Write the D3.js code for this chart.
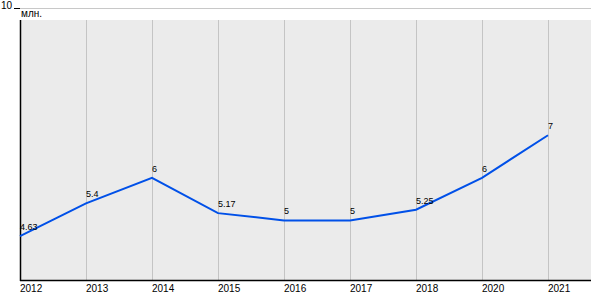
<!DOCTYPE html>
<html>
<head>
<meta charset="utf-8">
<script src="https://cdn.jsdelivr.net/npm/d3@7"></script>
<style>
  body { margin: 0; background: #fff; }
  svg { display: block; font-family: "Liberation Sans", Arial, sans-serif; }
</style>
</head>
<body>
<div class="js-chart"></div>
<script>
// chart values
const years = ["2012", "2013", "2014", "2015", "2016", "2017", "2018", "2020", "2021"];
const values = [4.63, 5.4, 6, 5.17, 5, 5, 5.25, 6, 7];
const valueLabels = ["4.63", "5.4", "6", "5.17", "5", "5", "5.25", "6", "7"];
const yMax = 10;
const yMin = 3.6;
const unitLabel = "млн.";

const width = 600, height = 300;
const plotLeft = 20, plotRight = 591, plotTop = 7.5, bgTop = 20, plotBottom = 280;

const svg = d3.select(".js-chart").append("svg")
  .attr("width", width).attr("height", height);

const x = d3.scalePoint().domain(years).range([plotLeft, 548]);
const y = d3.scaleLinear().domain([yMin, yMax]).range([plotBottom, plotTop]);

// plot background
svg.append("rect")
  .attr("x", plotLeft).attr("y", bgTop)
  .attr("width", plotRight - plotLeft).attr("height", plotBottom - bgTop)
  .attr("fill", "#ebebeb");

// top gridline with value 10
const topY = Math.round(y(yMax)) + 0.5;
svg.append("line")
  .attr("x1", plotLeft).attr("x2", plotRight)
  .attr("y1", topY).attr("y2", topY)
  .attr("stroke", "#c8c8c8");
svg.append("line")
  .attr("x1", 14).attr("x2", plotLeft)
  .attr("y1", topY).attr("y2", topY)
  .attr("stroke", "#000");
svg.append("text")
  .attr("x", 1).attr("y", y(yMax) + 1)
  .attr("font-size", 10).attr("fill", "#000")
  .text(String(yMax));
svg.append("text")
  .attr("x", 21).attr("y", 17)
  .attr("font-size", 10).attr("fill", "#000")
  .text(unitLabel);

// vertical gridlines
svg.selectAll(".grid").data(years.slice(1)).enter()
  .append("line")
  .attr("x1", d => Math.round(x(d)) + 0.5).attr("x2", d => Math.round(x(d)) + 0.5)
  .attr("y1", bgTop).attr("y2", plotBottom)
  .attr("stroke", "#c4c4c4");

// axes
svg.append("line")
  .attr("x1", plotLeft + 0.5).attr("x2", plotLeft + 0.5)
  .attr("y1", bgTop).attr("y2", plotBottom + 1)
  .attr("stroke", "#000").attr("stroke-width", 1.5);
svg.append("line")
  .attr("x1", plotLeft).attr("x2", plotRight)
  .attr("y1", plotBottom + 0.5).attr("y2", plotBottom + 0.5)
  .attr("stroke", "#000").attr("stroke-width", 1.5);

svg.selectAll(".tick").data(years).enter()
  .append("text")
  .attr("x", d => x(d)).attr("y", 292)
  .attr("font-size", 10).attr("fill", "#000")
  .text(d => d);

// line
const line = d3.line()
  .x((d, i) => x(years[i]))
  .y(d => y(d));

svg.append("path")
  .datum(values)
  .attr("d", line)
  .attr("fill", "none")
  .attr("stroke", "#0050e8")
  .attr("stroke-width", 2);

svg.selectAll(".val").data(values).enter()
  .append("text")
  .attr("x", (d, i) => x(years[i]))
  .attr("y", d => y(d) - 6)
  .attr("font-size", 9).attr("fill", "#000")
  .text((d, i) => valueLabels[i]);
</script>
</body>
</html>
